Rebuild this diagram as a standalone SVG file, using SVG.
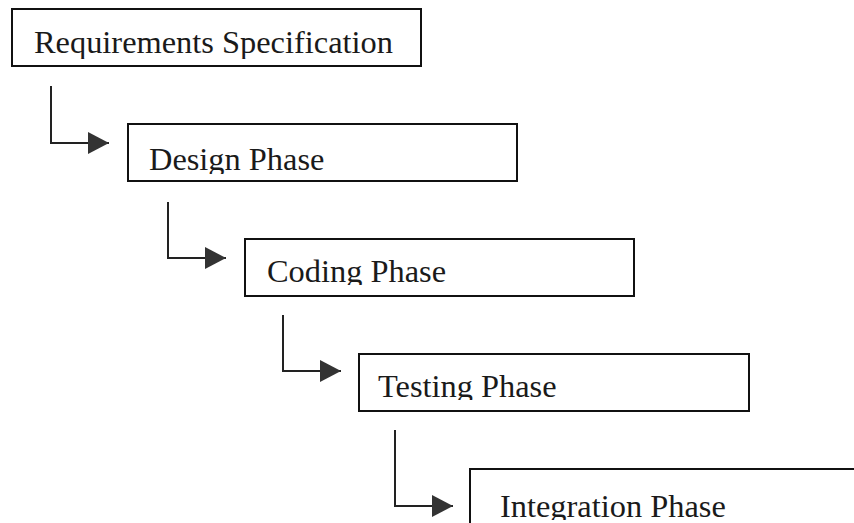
<svg xmlns="http://www.w3.org/2000/svg" width="854" height="523" viewBox="0 0 854 523">
<style>
.box{fill:#fff;stroke:#111;stroke-width:2}
.lbl{font-family:"Liberation Serif","Times New Roman",serif;font-size:32.4px;fill:#1a1a1a}
.conn{fill:none;stroke:#222;stroke-width:2}
</style>
<defs>
<marker id="arr" markerUnits="userSpaceOnUse" markerWidth="24" markerHeight="24" refX="21" refY="11" orient="auto">
<path d="M0,0 L21,11 L0,22 Z" fill="#333"/>
</marker>
<clipPath id="c1"><rect x="0" y="0" width="854" height="59"/></clipPath>
<clipPath id="c2"><rect x="0" y="0" width="854" height="174"/></clipPath>
<clipPath id="c3"><rect x="0" y="0" width="854" height="285"/></clipPath>
<clipPath id="c4"><rect x="0" y="0" width="854" height="400"/></clipPath>
<clipPath id="c5"><rect x="0" y="0" width="854" height="520"/></clipPath>
</defs>
<rect width="854" height="523" fill="#fff"/>
<g id="connectors">
<path class="conn" d="M51,86 V143 H109" marker-end="url(#arr)"/>
<path class="conn" d="M168,202 V258 H226" marker-end="url(#arr)"/>
<path class="conn" d="M283,315 V371 H341" marker-end="url(#arr)"/>
<path class="conn" d="M395,430 V506 H453" marker-end="url(#arr)"/>
</g>
<g id="requirements">
<rect class="box" x="12" y="9" width="409" height="57"/>
<text class="lbl" x="34" y="53" clip-path="url(#c1)">Requirements Specification</text>
</g>
<g id="design">
<rect class="box" x="128" y="124" width="389" height="57"/>
<text class="lbl" x="149" y="170" clip-path="url(#c2)">Design Phase</text>
</g>
<g id="coding">
<rect class="box" x="245" y="239" width="389" height="57"/>
<text class="lbl" x="267" y="282" clip-path="url(#c3)">Coding Phase</text>
</g>
<g id="testing">
<rect class="box" x="359" y="354" width="390" height="57"/>
<text class="lbl" x="378" y="397" clip-path="url(#c4)">Testing Phase</text>
</g>
<g id="integration">
<rect class="box" x="470" y="469" width="400" height="80"/>
<text class="lbl" x="500" y="517" clip-path="url(#c5)">Integration Phase</text>
</g>
</svg>
